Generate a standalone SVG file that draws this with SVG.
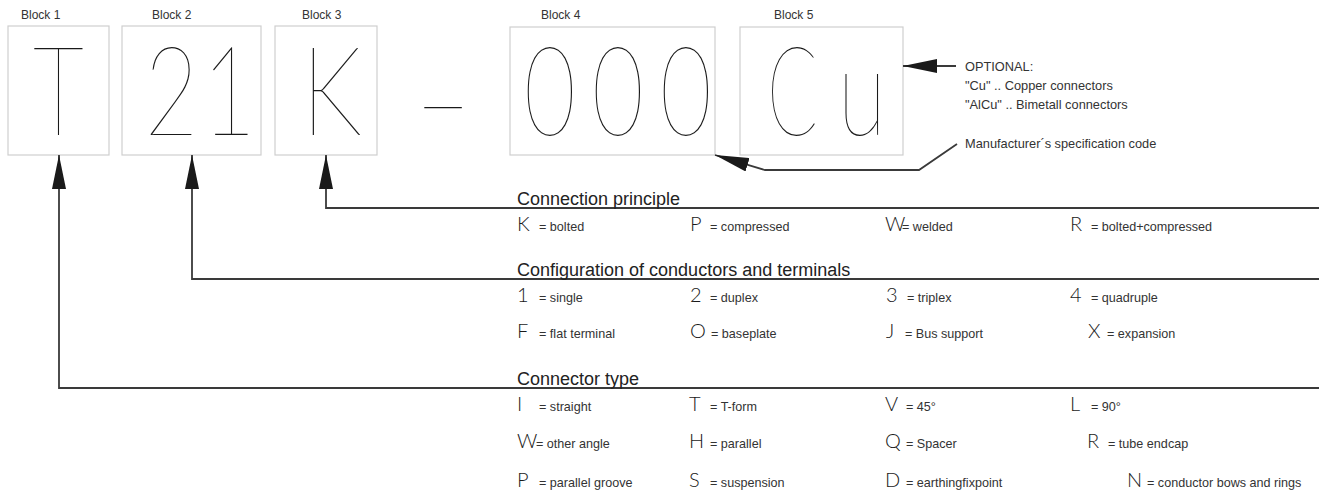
<svg xmlns="http://www.w3.org/2000/svg" width="1319" height="493" viewBox="0 0 1319 493">
<style>
.box{fill:#fff;stroke:#cfcfcf;stroke-width:1.2}
.big{font-family:Lato,Roboto,"Open Sans","DejaVu Sans",sans-serif;font-weight:100;font-size:124px;fill:#1a1a1a;text-anchor:middle}
.lbl{font-family:"Liberation Sans",Arial,sans-serif;font-size:12px;fill:#333}
.note{font-family:"Liberation Sans",Arial,sans-serif;font-size:12.8px;fill:#333}
.head{font-family:"Liberation Sans",Arial,sans-serif;font-size:18px;fill:#222}
.key{font-family:Lato,Roboto,"Liberation Sans",sans-serif;font-weight:300;font-size:20px;fill:#1a1a1a}
.desc{font-family:"Liberation Sans",Arial,sans-serif;font-size:12.6px;fill:#333}
.con{fill:none;stroke:#3a3a3a;stroke-width:1.8}
</style>
<defs>
<marker id="ah" markerUnits="userSpaceOnUse" markerWidth="34" markerHeight="14" refX="34" refY="7" orient="auto">
<path d="M0,0 L34,7 L0,14 Z" fill="#1a1a1a"/>
</marker>
</defs>
<rect width="1319" height="493" fill="#fff"/>

<g id="block1">
<text class="lbl" x="21" y="19">Block 1</text>
<rect class="box" x="8" y="26" width="101" height="129"/>
<text class="big" transform="translate(58.5,135) scale(0.72,1)">T</text>
</g>
<g id="block2">
<text class="lbl" x="152" y="19">Block 2</text>
<rect class="box" x="122" y="26" width="139" height="129"/>
<text class="big" transform="translate(171.5,135) scale(0.75,1)">2</text>
<text class="big" transform="translate(229,135) scale(0.75,1)">1</text>
</g>
<g id="block3">
<text class="lbl" x="302" y="19">Block 3</text>
<rect class="box" x="275" y="26" width="102" height="129"/>
<text class="big" transform="translate(331.5,135) scale(0.8,1)">K</text>
</g>
<g id="dash">
<text class="big" transform="translate(443,143) scale(0.78,1)">–</text>
</g>
<g id="block4">
<text class="lbl" x="541" y="19">Block 4</text>
<rect class="box" x="510" y="27" width="205" height="128"/>
<text class="big" transform="translate(550,135) scale(0.72,1)">0</text>
<text class="big" transform="translate(618,135) scale(0.72,1)">0</text>
<text class="big" transform="translate(686,135) scale(0.72,1)">0</text>
</g>
<g id="block5">
<text class="lbl" x="774" y="19">Block 5</text>
<rect class="box" x="740" y="27" width="163" height="128"/>
<text class="big" transform="translate(792.5,135) scale(0.6,1)">C</text>
<text class="big" transform="translate(862,135) scale(0.72,1)">u</text>
</g>
<g id="optional">
<text class="note" x="965" y="71">OPTIONAL:</text>
<text class="note" x="965" y="90">"Cu" .. Copper connectors</text>
<text class="note" x="965" y="109">"AlCu" .. Bimetall connectors</text>
</g>
<g id="manufacturer">
<text class="note" x="965" y="148" font-size="13.6">Manufacturer´s specification code</text>
</g>

<g id="connectors">
<path class="con" d="M956,66 L903,66" marker-end="url(#ah)"/>
<path class="con" d="M957,144 L919,170 L765,170 L715,155" marker-end="url(#ah)"/>
<path class="con" d="M1319,208 L326,208 L326,155" marker-end="url(#ah)"/>
<path class="con" d="M1319,279 L192,279 L192,155" marker-end="url(#ah)"/>
<path class="con" d="M1319,388 L59,388 L59,155" marker-end="url(#ah)"/>
</g>

<g id="connection-principle">
<text class="head" x="517" y="205">Connection principle</text>
<text class="key" x="517" y="231">K</text><text class="desc" x="539" y="231">= bolted</text>
<text class="key" x="690" y="231">P</text><text class="desc" x="710" y="231">= compressed</text>
<text class="key" x="885" y="231">W</text><text class="desc" x="902" y="231">= welded</text>
<text class="key" x="1070" y="231">R</text><text class="desc" x="1091" y="231">= bolted+compressed</text>
</g>

<g id="configuration">
<text class="head" x="517" y="276" font-size="19.5">Configuration of conductors and terminals</text>
<text class="key" x="517" y="302">1</text><text class="desc" x="539" y="302">= single</text>
<text class="key" x="690" y="302">2</text><text class="desc" x="710" y="302">= duplex</text>
<text class="key" x="886" y="302">3</text><text class="desc" x="907" y="302">= triplex</text>
<text class="key" x="1070" y="302">4</text><text class="desc" x="1091" y="302">= quadruple</text>
<text class="key" x="517" y="338">F</text><text class="desc" x="539" y="338">= flat terminal</text>
<text class="key" x="690" y="338">O</text><text class="desc" x="711" y="338">= baseplate</text>
<text class="key" x="886" y="338">J</text><text class="desc" x="905" y="338">= Bus support</text>
<text class="key" x="1088" y="338">X</text><text class="desc" x="1107" y="338">= expansion</text>
</g>

<g id="connector-type">
<text class="head" x="517" y="385">Connector type</text>
<text class="key" x="517" y="411">I</text><text class="desc" x="539" y="411">= straight</text>
<text class="key" x="689" y="411">T</text><text class="desc" x="710" y="411">= T-form</text>
<text class="key" x="885" y="411">V</text><text class="desc" x="906" y="411">= 45°</text>
<text class="key" x="1070" y="411">L</text><text class="desc" x="1091" y="411">= 90°</text>
<text class="key" x="517" y="448">W</text><text class="desc" x="536" y="448">= other angle</text>
<text class="key" x="689" y="448">H</text><text class="desc" x="710" y="448">= parallel</text>
<text class="key" x="885" y="448">Q</text><text class="desc" x="906" y="448">= Spacer</text>
<text class="key" x="1087" y="448">R</text><text class="desc" x="1108" y="448">= tube endcap</text>
<text class="key" x="517" y="487">P</text><text class="desc" x="539" y="487">= parallel groove</text>
<text class="key" x="689" y="487">S</text><text class="desc" x="710" y="487">= suspension</text>
<text class="key" x="885" y="487">D</text><text class="desc" x="906" y="487">= earthingfixpoint</text>
<text class="key" x="1127" y="487">N</text><text class="desc" x="1147" y="487">= conductor bows and rings</text>
</g>
</svg>
